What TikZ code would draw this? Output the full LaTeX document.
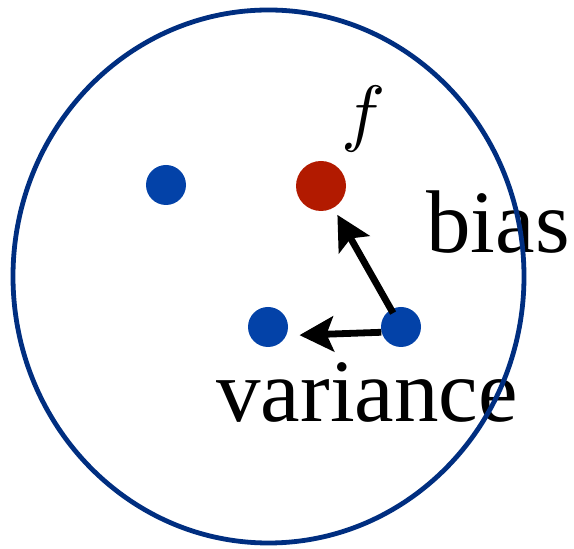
\documentclass[tikz,border=0pt]{standalone}
\usepackage{fontspec}
\setmainfont{Liberation Serif}
\usetikzlibrary{arrows.meta}
\DeclareFontShape{OML}{cmm}{m}{it}{<->cmmi10}{\skewchar\font'177}

\definecolor{ringblue}{RGB}{0,46,128}
\definecolor{dotblue}{RGB}{3,66,168}
\definecolor{dotred}{RGB}{178,26,0}

\begin{document}
\begin{tikzpicture}[x=0.5pt,y=-0.5pt]
    \tikzset{pt/.style={circle, fill=dotblue, minimum size=20pt, inner sep=0pt},
             lbl/.style={inner sep=0pt, anchor=base west, font=\fontsize{44.5pt}{50pt}\selectfont},
             arr/.style={-{Stealth[length=17pt, width=17.5pt, inset=3.5pt]}, line width=3.4pt}}
    \useasboundingbox (0,0) rectangle (574,549);

    % ---- estimates and target ----
    \node[pt] (p1) at (166,185) {};
    \node[pt] (p2) at (268,327) {};
    \node[pt] (p3) at (401,327) {};
    \node[pt, fill=dotred, minimum size=25pt] (fstar) at (321,186) {};
    \node[inner sep=0pt, anchor=base, font=\fontsize{37pt}{40pt}\selectfont] (flbl) at (364,138) {$f$};

    % ---- bias and variance ----
    \draw[arr, shorten <=8pt, shorten >=3.9pt] (p3.center) -- (fstar);
    \draw[arr, shorten >=6.5pt] (p3.195) -- (p2.-25);
    \node[lbl] (bias) at (426,253) {bias};
    \node[lbl] (var) at (216,422) {variance};

    % ---- outer ring ----
    \draw[ringblue, line width=2.4pt] (268.5,276.5) ellipse [x radius=127.75pt, y radius=133.25pt];
\end{tikzpicture}
\end{document}
